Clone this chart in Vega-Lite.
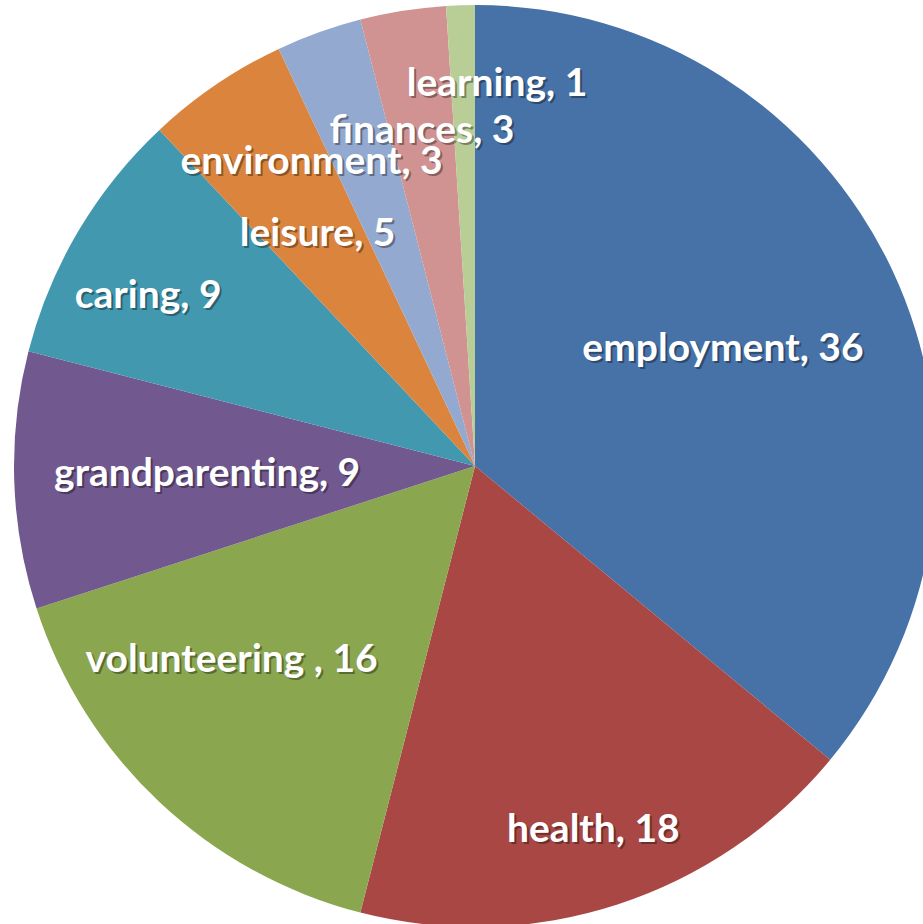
{
  "$schema": "https://vega.github.io/schema/vega-lite/v6.json",
  "width": 950,
  "height": 932,
  "autosize": "none",
  "padding": 0,
  "background": "white",
  "config": {"view": {"stroke": null}},
  "data": {
    "values": [
      {"category": "employment", "label": "employment, 36", "value": 36},
      {"category": "health", "label": "health, 18", "value": 18},
      {"category": "volunteering", "label": "volunteering , 16", "value": 16},
      {"category": "grandparenting", "label": "grandparenting, 9", "value": 9},
      {"category": "caring", "label": "caring, 9", "value": 9},
      {"category": "leisure", "label": "leisure, 5", "value": 5},
      {"category": "environment", "label": "environment, 3", "value": 3},
      {"category": "finances", "label": "finances, 3", "value": 3},
      {"category": "learning", "label": "learning, 1", "value": 1}
    ]
  },
  "transform": [{"window": [{"op": "row_number", "as": "i"}]}],
  "encoding": {
    "theta": {"field": "value", "type": "quantitative", "stack": true},
    "order": {"field": "i", "type": "quantitative"}
  },
  "layer": [
    {
      "mark": {"type": "arc", "outerRadius": 461},
      "encoding": {
        "color": {
          "field": "category",
          "type": "nominal",
          "sort": null,
          "legend": null,
          "scale": {
            "domain": ["employment", "health", "volunteering", "grandparenting", "caring", "leisure", "environment", "finances", "learning"],
            "range": ["#4672A8", "#A94744", "#8AA64F", "#71588F", "#4298AF", "#DB843D", "#93A9CF", "#D19392", "#B9CD96"]
          }
        }
      }
    },
    {
      "mark": {
        "type": "text", "font": "Lato", "fontWeight": "bold", "fontSize": 39, "fill": "black", "opacity": 0.35, "align": "center", "baseline": "middle",
        "dx": {"expr": "2 + (datum.category === 'volunteering' ? -38 : datum.category === 'caring' ? -17 : datum.category === 'environment' ? -54 : datum.category === 'learning' ? 34 : 0)"},
        "dy": {"expr": "2 + (datum.category === 'volunteering' ? -25 : datum.category === 'caring' ? 13 : 0)"},
        "radius": {"expr": "datum.category === 'employment' ? 274 : datum.category === 'health' ? 383 : datum.category === 'volunteering' ? 300 : datum.category === 'grandparenting' ? 268 : datum.category === 'caring' ? 360 : datum.category === 'leisure' ? 280 : datum.category === 'environment' ? 323 : datum.category === 'finances' ? 339 : 382"}
      },
      "encoding": {"text": {"field": "label"}}
    },
    {
      "mark": {
        "type": "text", "font": "Lato", "fontWeight": "bold", "fontSize": 39, "fill": "white", "align": "center", "baseline": "middle",
        "dx": {"expr": "datum.category === 'volunteering' ? -38 : datum.category === 'caring' ? -17 : datum.category === 'environment' ? -54 : datum.category === 'learning' ? 34 : 0"},
        "dy": {"expr": "datum.category === 'volunteering' ? -25 : datum.category === 'caring' ? 13 : 0"},
        "radius": {"expr": "datum.category === 'employment' ? 274 : datum.category === 'health' ? 383 : datum.category === 'volunteering' ? 300 : datum.category === 'grandparenting' ? 268 : datum.category === 'caring' ? 360 : datum.category === 'leisure' ? 280 : datum.category === 'environment' ? 323 : datum.category === 'finances' ? 339 : 382"}
      },
      "encoding": {"text": {"field": "label"}}
    }
  ]
}
